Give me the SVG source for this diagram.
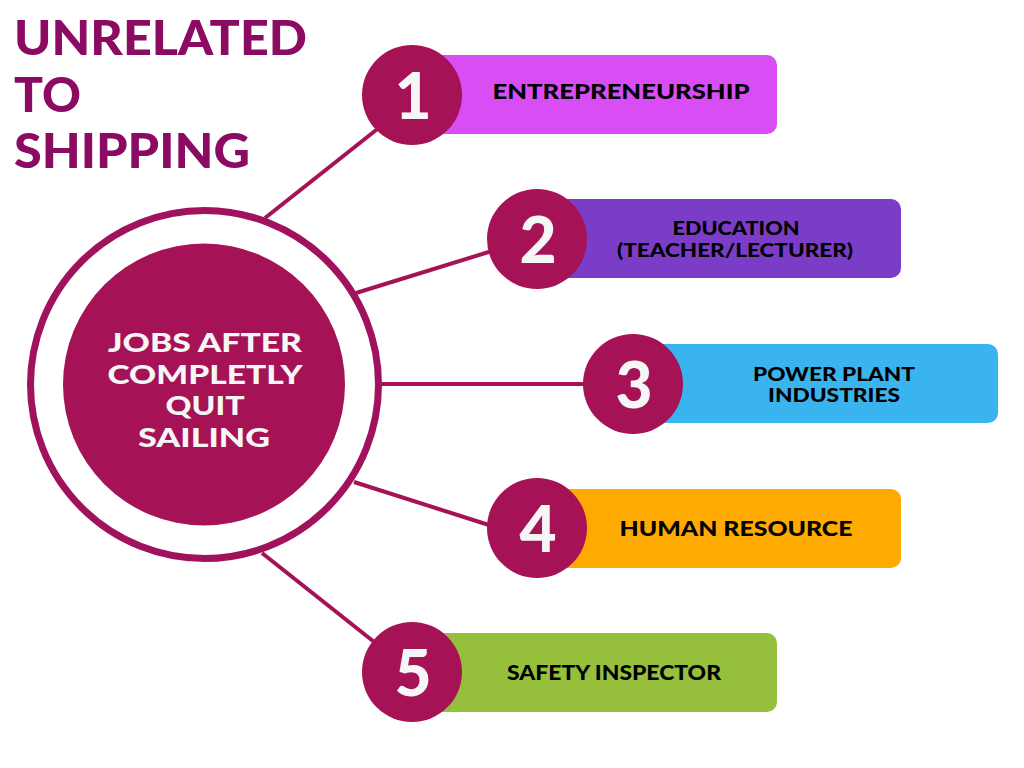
<svg xmlns="http://www.w3.org/2000/svg" width="1024" height="768" viewBox="0 0 1024 768">
<style>
text{font-family:Lato,"Open Sans",sans-serif;font-weight:900}
.title{font-size:48px;fill:#8C0B62}
.center{font-size:27px;fill:#F6F6F6;text-anchor:middle}
.num{font-size:64px;fill:#F6F6F6;text-anchor:middle}
.lbl{font-size:21px;fill:#000;text-anchor:middle}
.lbl2{font-size:18px;fill:#000;text-anchor:middle}
.badge{fill:#A51255}
.conn line{stroke:#A51255;stroke-width:4}
</style>
<rect width="1024" height="768" fill="#FFFFFF"/>
<g id="title">
<text class="title" x="14" y="55" textLength="293" lengthAdjust="spacingAndGlyphs">UNRELATED</text>
<text class="title" x="14" y="112" textLength="67" lengthAdjust="spacingAndGlyphs">TO</text>
<text class="title" x="14" y="168" textLength="236" lengthAdjust="spacingAndGlyphs">SHIPPING</text>
</g>
<g class="conn" id="connectors">
<line x1="265" y1="218" x2="385" y2="123"/>
<line x1="356" y1="293" x2="492" y2="251"/>
<line x1="382" y1="384" x2="588" y2="384"/>
<line x1="354" y1="482" x2="492" y2="526"/>
<line x1="262" y1="553" x2="378" y2="645"/>
</g>
<g id="center">
<circle cx="204.5" cy="384.5" r="174" fill="none" stroke="#A0125C" stroke-width="7"/>
<circle cx="204" cy="384.5" r="141" fill="#A51255"/>
<text class="center" x="205" y="352" textLength="194" lengthAdjust="spacingAndGlyphs">JOBS AFTER</text>
<text class="center" x="205" y="384" textLength="195" lengthAdjust="spacingAndGlyphs">COMPLETLY</text>
<text class="center" x="205" y="415" textLength="79" lengthAdjust="spacingAndGlyphs">QUIT</text>
<text class="center" x="204" y="447" textLength="132" lengthAdjust="spacingAndGlyphs">SAILING</text>
</g>
<g id="item1">
<rect x="420" y="55" width="357" height="79" rx="10" fill="#D94EF4"/>
<circle class="badge" cx="412" cy="95" r="50"/>
<text class="num" x="413" y="119">1</text>
<text class="lbl" x="621" y="99" textLength="257" lengthAdjust="spacingAndGlyphs">ENTREPRENEURSHIP</text>
</g>
<g id="item2">
<rect x="545" y="199" width="356" height="79" rx="10" fill="#7B3CC8"/>
<circle class="badge" cx="537" cy="239" r="50"/>
<text class="num" x="538" y="263">2</text>
<text class="lbl2" x="736" y="235" textLength="127" lengthAdjust="spacingAndGlyphs">EDUCATION</text>
<text class="lbl2" x="735" y="257" textLength="236" lengthAdjust="spacingAndGlyphs">(TEACHER/LECTURER)</text>
</g>
<g id="item3">
<rect x="641" y="344" width="357" height="79" rx="10" fill="#3AB4EE"/>
<circle class="badge" cx="633" cy="384" r="50"/>
<text class="num" x="634" y="408">3</text>
<text class="lbl2" x="834" y="381" textLength="162" lengthAdjust="spacingAndGlyphs">POWER PLANT</text>
<text class="lbl2" x="834" y="402" textLength="132" lengthAdjust="spacingAndGlyphs">INDUSTRIES</text>
</g>
<g id="item4">
<rect x="545" y="489" width="356" height="79" rx="10" fill="#FFAA00"/>
<circle class="badge" cx="537" cy="528" r="50"/>
<text class="num" x="538" y="552">4</text>
<text class="lbl" x="736" y="536" textLength="233" lengthAdjust="spacingAndGlyphs">HUMAN RESOURCE</text>
</g>
<g id="item5">
<rect x="420" y="633" width="357" height="79" rx="10" fill="#96C03C"/>
<circle class="badge" cx="412" cy="672" r="50"/>
<text class="num" x="413" y="696">5</text>
<text class="lbl" x="614" y="680" textLength="214" lengthAdjust="spacingAndGlyphs">SAFETY INSPECTOR</text>
</g>
</svg>
